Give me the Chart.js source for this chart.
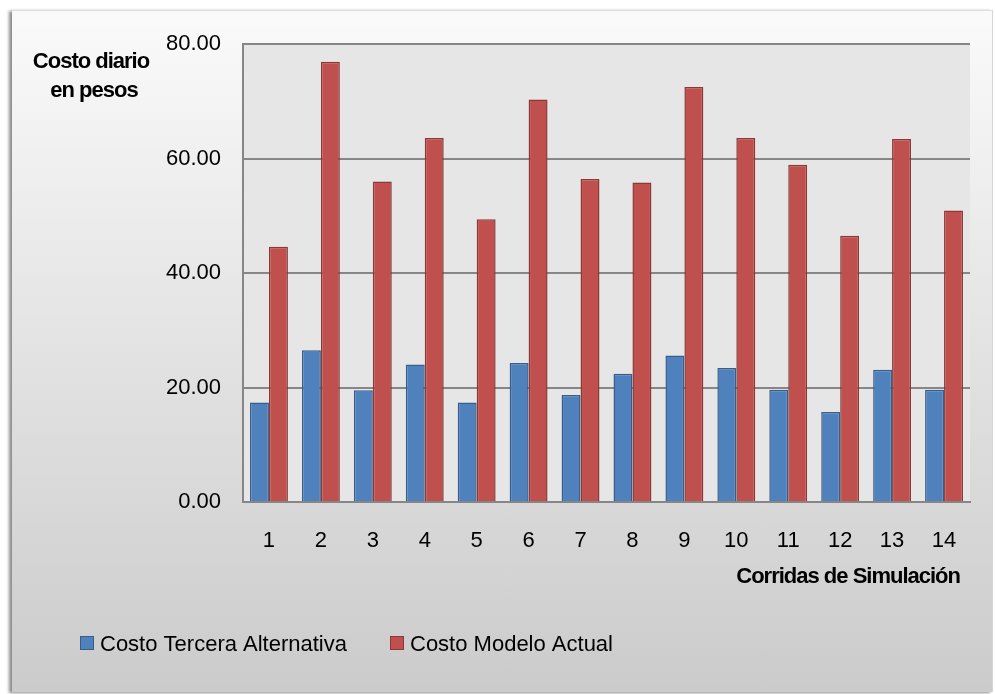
<!DOCTYPE html>
<html>
<head>
<meta charset="utf-8">
<script src="https://cdn.jsdelivr.net/npm/chart.js@4"></script>
<style>
  html, body { margin: 0; padding: 0; background: #ffffff; }
  body { width: 995px; height: 694px; position: relative; overflow: hidden; }
  #frame {
    position: absolute; left: 12px; top: 10px; width: 980px; height: 681px;
    background: linear-gradient(to bottom, #fafafa 0%, #cbcbcb 100%);
    border-top: 1px solid #dedede; border-right: 1px solid #d6d6d6;
    box-shadow: -3px 1px 3px rgba(0,0,0,0.45);
  }
  #chart { position: absolute; left: 0; top: 0; }
</style>
</head>
<body>
<div id="frame"></div>
<canvas id="chart" width="995" height="694"></canvas>
<script>
// Simulation runs and daily cost (pesos) of each model
const corridas = ['1','2','3','4','5','6','7','8','9','10','11','12','13','14'];
const costoTerceraAlternativa = [17.4, 26.5, 19.5, 24.0, 17.4, 24.3, 18.7, 22.4, 25.6, 23.4, 19.6, 15.7, 23.1, 19.6];
const costoModeloActual = [44.6, 76.9, 56.0, 63.6, 49.4, 70.3, 56.4, 55.8, 72.5, 63.6, 58.9, 46.5, 63.4, 50.9];
const yTicks = [0, 20, 40, 60, 80];
const yTitle = ['Costo diario', 'en pesos'];
const xTitle = 'Corridas de Simulación';

const FONT = "'Liberation Sans', Arial, sans-serif";

// Light grey plot background behind the bars
const plotBackground = {
  id: 'plotBackground',
  beforeDraw(chart) {
    const { ctx, chartArea: a } = chart;
    ctx.save();
    ctx.fillStyle = '#e6e6e6';
    ctx.fillRect(a.left, a.top, a.right - a.left, a.bottom - a.top);
    ctx.restore();
  }
};

// Horizontal axis titles and the legend row
const annotations = {
  id: 'annotations',
  afterDraw(chart) {
    const { ctx } = chart;
    ctx.save();
    ctx.fillStyle = '#000000';
    ctx.font = 'bold 22px ' + FONT;
    ctx.letterSpacing = '-1px';
    ctx.textAlign = 'center';
    ctx.textBaseline = 'alphabetic';
    ctx.fillText(yTitle[0], 91, 68);
    ctx.fillText(yTitle[1], 94, 97);
    ctx.textAlign = 'right';
    ctx.fillText(xTitle, 960, 583);

    // legend
    const items = [{ x: 80 }, { x: 390 }];
    ctx.font = '22px ' + FONT;
    ctx.letterSpacing = '0px';
    ctx.textAlign = 'left';
    chart.data.datasets.forEach((ds, i) => {
      const x = items[i].x;
      ctx.fillStyle = ds.backgroundColor;
      ctx.fillRect(x, 636, 14, 14);
      ctx.strokeStyle = ds.borderColor;
      ctx.lineWidth = 1;
      ctx.strokeRect(x + 0.5, 636.5, 13, 13);
      ctx.fillStyle = '#000000';
      ctx.fillText(ds.label, x + 20, 651);
    });
    ctx.restore();
  }
};

new Chart(document.getElementById('chart'), {
  type: 'bar',
  data: {
    labels: corridas,
    datasets: [
      {
        label: 'Costo Tercera Alternativa',
        data: costoTerceraAlternativa,
        backgroundColor: '#4f81bd',
        borderColor: '#385d8a',
        borderWidth: 1.5
      },
      {
        label: 'Costo Modelo Actual',
        data: costoModeloActual,
        backgroundColor: '#c0504d',
        borderColor: '#8c3836',
        borderWidth: 1.5
      }
    ]
  },
  options: {
    responsive: false,
    animation: false,
    devicePixelRatio: 1,
    layout: { padding: { left: 0, right: 25, top: 44, bottom: 0 } },
    datasets: { bar: { categoryPercentage: 0.73, barPercentage: 1.0 } },
    plugins: {
      legend: { display: false },
      tooltip: { enabled: false }
    },
    scales: {
      x: {
        grid: { display: false, drawTicks: false },
        border: { display: true, color: '#868686', width: 2 },
        ticks: { color: '#000000', font: { family: FONT, size: 22 }, padding: 26, maxRotation: 0 },
        afterFit(scale) { scale.height = 192; }
      },
      y: {
        min: 0,
        max: 80,
        afterBuildTicks(scale) { scale.ticks = yTicks.map(v => ({ value: v })); },
        grid: { color: '#868686', lineWidth: 2, drawTicks: false },
        border: { display: true, color: '#868686', width: 2 },
        ticks: {
          color: '#000000',
          font: { family: FONT, size: 22 },
          padding: 22,
          callback: v => Number(v).toFixed(2)
        },
        afterFit(scale) { scale.width = 243; }
      }
    }
  },
  plugins: [plotBackground, annotations]
});
</script>
</body>
</html>
